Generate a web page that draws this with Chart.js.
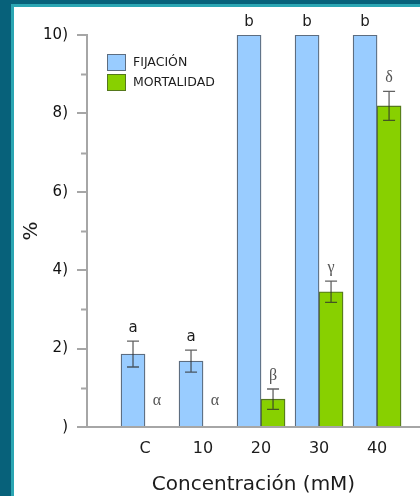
<!DOCTYPE html>
<html lang="es">
<head>
<meta charset="utf-8">
<title>Fijación y mortalidad</title>
<script src="https://cdn.jsdelivr.net/npm/chart.js@4.4.1/dist/chart.umd.min.js"></script>
<style>
    html, body { margin: 0; padding: 0; background: #07617a; overflow: hidden; }
    #panel {
        position: absolute; left: 11px; top: 4px;
        width: 409px; height: 492px; box-sizing: border-box;
        border-left: 3px solid #2ba6b3; border-top: 3px solid #2ba6b3;
        background: #fff;
    }
    #grafico { display: block; }
</style>
</head>
<body>
<div id="panel"><canvas id="grafico" width="406" height="489"></canvas></div>
<script>
const categorias = ['C', '10', '20', '30', '40'];
const fijacion = [18.6, 16.8, 100, 100, 100];
const fijacionError = [3.3, 2.8, 0, 0, 0];
const mortalidad = [0, 0, 7.1, 34.5, 81.9];
const mortalidadError = [0, 0, 2.6, 2.7, 3.7];
const letrasFijacion = ['a', 'a', 'b', 'b', 'b'];
const letrasMortalidad = ['α', 'α', 'β', 'γ', 'δ'];
const valoresY = [0, 20, 40, 60, 80, 100];
const etiquetasY = [')', '2)', '4)', '6)', '8)', '10)'];

const gris = '#a6a6a6';
const texto = '#1c1c1c';

// error bars, significance letters, minor ticks and the legend box
const marcas = {
    id: 'marcas',
    afterDatasetsDraw(chart) {
        const ctx = chart.ctx;
        const y = chart.scales.y;
        const area = chart.chartArea;

        chart.data.datasets.forEach((ds, i) => {
            const meta = chart.getDatasetMeta(i);
            meta.data.forEach((bar, j) => {
                const v = ds.data[j].y;
                const e = ds.errores[j];
                ctx.save();
                if (e > 0) {
                    const arriba = y.getPixelForValue(v + e);
                    const abajo = y.getPixelForValue(v - e);
                    ctx.strokeStyle = 'rgba(45,45,45,0.75)';
                    ctx.lineWidth = 1.3;
                    ctx.beginPath();
                    ctx.moveTo(bar.x, arriba); ctx.lineTo(bar.x, abajo);
                    ctx.moveTo(bar.x - 6, arriba); ctx.lineTo(bar.x + 6, arriba);
                    ctx.moveTo(bar.x - 6, abajo); ctx.lineTo(bar.x + 6, abajo);
                    ctx.stroke();
                }
                const base = y.getPixelForValue(Math.max(v + e, ds.letraMin)) - 9;
                ctx.font = ds.letraFuente;
                ctx.fillStyle = ds.letraColor;
                ctx.textAlign = 'center';
                ctx.textBaseline = 'alphabetic';
                ctx.fillText(ds.letras[j], bar.x, base);
                ctx.restore();
            });
        });

        // short minor ticks between the labelled ones
        ctx.save();
        ctx.strokeStyle = gris;
        ctx.lineWidth = 2;
        ctx.beginPath();
        for (let v = 10; v < 100; v += 20) {
            const py = Math.round(y.getPixelForValue(v)) + 0.5;
            ctx.moveTo(area.left - 6, py);
            ctx.lineTo(area.left, py);
        }
        ctx.stroke();
        ctx.restore();

        // legend inside the plot
        ctx.save();
        ctx.font = '12.5px "DejaVu Sans"';
        ctx.textBaseline = 'middle';
        ctx.textAlign = 'left';
        chart.data.datasets.forEach((ds, i) => {
            const bx = 93, by = 47 + i * 20;
            ctx.fillStyle = ds.backgroundColor;
            ctx.fillRect(bx, by, 19, 17);
            ctx.strokeStyle = ds.borderColor;
            ctx.lineWidth = 1;
            ctx.strokeRect(bx + 0.5, by + 0.5, 18, 16);
            ctx.fillStyle = texto;
            ctx.fillText(ds.label, bx + 26, by + 8.5);
        });
        ctx.restore();
    }
};

const ctx = document.getElementById('grafico').getContext('2d');
new Chart(ctx, {
    type: 'bar',
    data: {
        datasets: [{
            label: 'FIJACIÓN',
            data: fijacion.map((v, i) => ({ x: i + 1, y: v })),
            errores: fijacionError,
            letras: letrasFijacion,
            letraMin: 0,
            letraFuente: '15px "DejaVu Sans"',
            letraColor: texto,
            backgroundColor: '#99ccff',
            borderColor: '#5d6d80',
            borderWidth: 1.3,
            barThickness: 24
        }, {
            label: 'MORTALIDAD',
            data: mortalidad.map((v, i) => ({ x: i + 1, y: v })),
            errores: mortalidadError,
            letras: letrasMortalidad,
            letraMin: 3.2,
            letraFuente: '16px "Liberation Serif"',
            letraColor: '#555',
            backgroundColor: '#88d000',
            borderColor: '#55781c',
            borderWidth: 1.3,
            barThickness: 24
        }]
    },
    options: {
        responsive: false,
        animation: false,
        layout: { padding: { top: 28, left: 0, right: 0, bottom: 0 } },
        plugins: {
            legend: { display: false },
            tooltip: { enabled: false }
        },
        scales: {
            x: {
                type: 'linear',
                min: 0,
                max: 5.74,
                offset: false,
                grid: { drawOnChartArea: false, drawTicks: false, color: 'transparent' },
                border: { color: gris, width: 2 },
                ticks: {
                    stepSize: 1,
                    includeBounds: false,
                    autoSkip: false,
                    maxRotation: 0,
                    padding: 12,
                    color: texto,
                    font: { family: 'DejaVu Sans', size: 16 },
                    callback: v => categorias[v - 1] ?? ''
                },
                title: {
                    display: true,
                    text: 'Concentración (mM)',
                    color: texto,
                    font: { family: 'DejaVu Sans', size: 20, lineHeight: 1 },
                    padding: { top: 0, bottom: 1 }
                },
                afterFit: s => { s.height = 69; }
            },
            y: {
                min: 0,
                max: 100,
                grid: {
                    drawOnChartArea: false,
                    tickLength: 10,
                    lineWidth: 2,
                    color: c => valoresY.includes(c.tick.value) ? gris : 'transparent'
                },
                border: { color: gris, width: 2 },
                ticks: {
                    stepSize: 10,
                    padding: 9,
                    color: '#111',
                    font: { family: 'DejaVu Sans', size: 15 },
                    callback: v => {
                        const k = valoresY.indexOf(v);
                        return k < 0 ? '' : etiquetasY[k];
                    }
                },
                title: {
                    display: true,
                    text: '%',
                    color: texto,
                    font: { family: 'DejaVu Sans', size: 20 },
                    padding: { top: 6, bottom: 0 }
                },
                afterFit: s => { s.width = 73; }
            }
        }
    },
    plugins: [marcas]
});
</script>
</body>
</html>
